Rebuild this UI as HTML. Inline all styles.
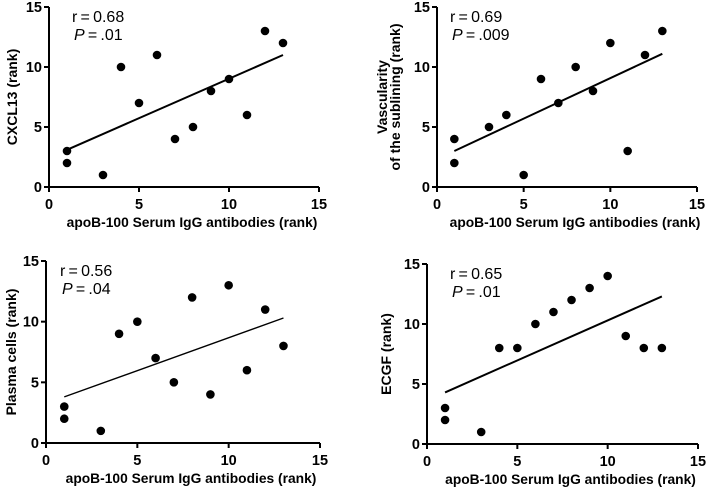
<!DOCTYPE html>
<html><head><meta charset="utf-8"><style>
body{margin:0;background:#fff}
svg{display:block;font-family:"Liberation Sans",Arial,sans-serif}
</style></head><body>
<svg id="c" width="707" height="490"></svg>
<script>
const xs = [1,1,3,4,5,6,7,8,9,10,11,12,13];
const xs3 = [1,1,3,4,5,6,7,8,9,10,11,12,13];
const cxcl13 = [3,2,1,10,7,11,4,5,8,9,6,13,12];
const xsVasc = [1,1,3,4,5,6,7,8,9,10,11,12,13];
const vascularity = [4,2,5,6,1,9,7,10,8,12,3,11,13];
const plasma = [3,2,1,9,10,7,5,12,4,13,6,11,8];
const ecgf = [3,2,1,8,8,10,11,12,13,14,9,8,8];
const fits = [[3.1,11.0],[3.0,11.1],[3.8,10.3],[4.3,12.3]];
const stats = [["0.68",".01"],["0.69",".009"],["0.56",".04"],["0.65",".01"]];
const ticks = [0,5,10,15];
const ylabels = [["CXCL13 (rank)"],["Vascularity","of the sublining (rank)"],["Plasma cells (rank)"],["ECGF (rank)"]];
const names = ["cxcl13","vascularity","plasma-cells","ecgf"];
const panels = [
 {x0:49,x1:319,y0:187,y1:7,xv:xs,yv:cxcl13,lw:2,ylx:[17],sx0:72},
 {x0:437,x1:697,y0:187,y1:7,xv:xsVasc,yv:vascularity,lw:2,ylx:[387,400],sx0:450},
 {x0:46,x1:320,y0:443,y1:261,xv:xs3,yv:plasma,lw:1.4,ylx:[16],sx0:60},
 {x0:427,x1:698,y0:444,y1:264,xv:xs,yv:ecgf,lw:2,ylx:[391],sx0:450}
];
const svg=document.getElementById('c');
const NS="http://www.w3.org/2000/svg";
function mk(t,a,p){const e=document.createElementNS(NS,t);for(const k in a)e.setAttribute(k,a[k]);(p||svg).appendChild(e);return e;}
panels.forEach((p,i)=>{
 const g=mk('g',{});
 
 
 const sx=v=>p.x0+(p.x1-p.x0)*v/15, sy=v=>p.y0+(p.y1-p.y0)*v/15;
 const ax=mk('path',{d:`M${p.x0},${p.y1}V${p.y0}H${p.x1}`,stroke:'#000','stroke-width':2,fill:'none'},g);
 
 
 ticks.forEach(t=>{
  mk('line',{x1:sx(t),x2:sx(t),y1:p.y0,y2:p.y0+5,stroke:'#000','stroke-width':2},g);
  mk('line',{x1:p.x0-5,x2:p.x0,y1:sy(t),y2:sy(t),stroke:'#000','stroke-width':2},g);
  const tx=mk('text',{x:sx(t),y:p.y0+22,'text-anchor':'middle','font-size':14.5,'font-weight':'bold'},g);tx.textContent=t;
  
  
  const ty=mk('text',{x:p.x0-7,y:sy(t)+5,'text-anchor':'end','font-size':14.5,'font-weight':'bold'},g);ty.textContent=t;
  
  
 });
 const xt=mk('text',{x:(p.x0+p.x1)/2+8,y:p.y0+40,'text-anchor':'middle','font-size':13.8,'font-weight':'bold'},g);
 xt.textContent='apoB-100 Serum IgG antibodies (rank)';
 
 
 const yl=ylabels[i], cy=(p.y0+p.y1)/2;
 yl.forEach((s,j)=>{
  const x=p.ylx[j];
  const t=mk('text',{x:x,y:cy,'text-anchor':'middle','font-size':14,'font-weight':'bold',transform:`rotate(-90 ${x} ${cy})`},g);
  t.textContent=s;
  
  
 });
 const f=fits[i];
 const ln=mk('line',{x1:sx(1),y1:sy(f[0]),x2:sx(13),y2:sy(f[1]),stroke:'#000','stroke-width':p.lw},g);
 
 
 p.xv.forEach((xv,k)=>{
  const c=mk('circle',{cx:sx(xv),cy:sy(p.yv[k]),r:4.3,fill:'#000'},g);
  
  
 });
 const r=mk('text',{x:p.sx0,y:sy(15)+15,'font-size':16},g);
 r.textContent='r\u2009=\u20090.'+stats[i][0].slice(2);
 
 
 const pv=mk('text',{x:p.sx0+2,y:sy(15)+33,'font-size':16},g);
 pv.innerHTML='<tspan font-style="italic">P</tspan>\u2009=\u2009'+stats[i][1];
 
 
});
</script>
</body></html>
